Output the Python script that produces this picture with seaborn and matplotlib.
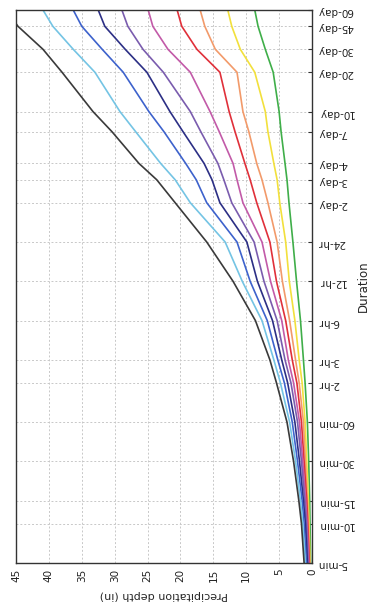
import numpy as np
import pandas as pd
import seaborn as sns
import matplotlib as mpl
import matplotlib.pyplot as plt

sns.set_style("white")
plt.rcParams["font.family"] = ["DejaVu Sans"]

# durations (minutes) and their tick labels
durations = [5, 10, 15, 30, 60, 120, 180, 360, 720, 1440, 2880, 4320, 5760,
             10080, 14400, 28800, 43200, 64800, 86400]
duration_labels = ["5-min", "10-min", "15-min", "30-min", "60-min", "2-hr",
                   "3-hr", "6-hr", "12-hr", "24-hr", "2-day", "3-day", "4-day",
                   "7-day", "10-day", "20-day", "30-day", "45-day", "60-day"]

# precipitation depth (in) per curve
ari_1 = [0.20, 0.30, 0.35, 0.50, 0.70, 1.05, 1.30, 1.75, 2.35, 2.90, 3.50,
         3.80, 4.10, 4.70, 5.00, 5.90, 7.10, 8.20, 8.70]
ari_2 = [0.30, 0.45, 0.55, 0.80, 1.05, 1.50, 1.95, 2.60, 3.45, 4.00, 4.90,
         5.30, 5.80, 6.70, 7.10, 8.70, 10.9, 12.2, 12.8]
ari_5 = [0.35, 0.55, 0.70, 1.00, 1.30, 1.95, 2.50, 3.40, 4.50, 5.30, 6.70,
         7.60, 8.40, 9.60, 10.5, 11.4, 14.7, 16.3, 17.0]
ari_10 = [0.40, 0.65, 0.80, 1.20, 1.60, 2.30, 3.00, 4.00, 5.40, 6.40, 8.40,
          9.40, 10.2, 11.7, 12.6, 14.0, 17.5, 19.8, 20.5]
ari_25 = [0.50, 0.75, 0.95, 1.40, 1.90, 2.80, 3.60, 4.60, 6.30, 7.60, 10.5,
          11.4, 12.0, 14.1, 15.5, 18.5, 21.9, 24.2, 24.9]
ari_50 = [0.60, 0.85, 1.10, 1.60, 2.20, 3.20, 4.10, 5.30, 7.30, 8.80, 12.2,
          13.4, 14.3, 16.9, 18.5, 22.6, 25.7, 28.0, 28.9]
ari_100 = [0.70, 1.00, 1.30, 1.90, 2.60, 3.70, 4.60, 6.00, 8.30, 9.90, 14.0,
           15.2, 16.4, 19.6, 21.6, 25.1, 28.4, 31.5, 32.5]
ari_200 = [0.85, 1.20, 1.50, 2.20, 3.00, 4.20, 5.20, 6.80, 9.40, 11.4, 16.0,
           17.6, 19.2, 22.5, 24.8, 28.7, 31.9, 35.0, 36.3]
ari_500 = [1.00, 1.40, 1.75, 2.50, 3.40, 4.80, 5.80, 7.60, 10.6, 13.2, 18.5,
           20.8, 23.0, 26.8, 29.2, 33.0, 36.3, 39.4, 40.9]
ari_1000 = [1.20, 1.60, 2.00, 2.80, 3.80, 5.40, 6.40, 8.60, 12.0, 16.0, 20.8,
            23.6, 26.3, 30.4, 33.3, 38.0, 40.9, 44.7, 46.5]

series = {"1": ari_1, "2": ari_2, "5": ari_5, "10": ari_10, "25": ari_25,
          "50": ari_50, "100": ari_100, "200": ari_200, "500": ari_500,
          "1000": ari_1000}
colors = ["#3fae49", "#f2e03c", "#f29a6a", "#e0303a", "#c25aa8", "#7a5cae",
          "#2c2f85", "#3d62cc", "#74c4e4", "#3a3a3a"]

rows = []
for ari, vals in series.items():
    for d, v in zip(durations, vals):
        rows.append({"ari": ari, "minutes": d, "depth": v})
df = pd.DataFrame(rows)

fig = plt.figure(figsize=(3.77, 6.14), dpi=100)
ax = fig.add_axes([16 / 377, 51 / 614, 296 / 377, 553 / 614])

sns.lineplot(data=df, x="depth", y="minutes", hue="ari", palette=colors,
             sort=False, orient="y", estimator=None, linewidth=1.2,
             legend=False, ax=ax)

ax.set_yscale("log")
ax.set_ylim(5, 86400)
ax.set_xlim(45, 0)

ax.set_xticks(np.arange(0, 50, 5))
ax.set_xticklabels([str(v) for v in range(0, 50, 5)], rotation=90, fontsize=7.5)
ax.set_yticks(durations)
ax.set_yticklabels(duration_labels, rotation=180, fontsize=7.5)
ax.yaxis.set_minor_locator(mpl.ticker.NullLocator())
ax.yaxis.tick_right()
ax.yaxis.set_label_position("right")

ax.set_xlabel("Precipitation depth (in)", rotation=180, fontsize=8, labelpad=6)
ax.set_ylabel("Duration", rotation=90, fontsize=8.5, labelpad=2)

ax.tick_params(direction="in", length=3, width=0.8, colors="#333333",
               labelcolor="#222222", pad=4)
ax.grid(True, which="major", linestyle=(0, (2, 2)), color="#c8c8c8",
        linewidth=0.7)
for s in ax.spines.values():
    s.set_visible(True)
    s.set_color("#333333")
    s.set_linewidth(1.0)

fig.savefig("out.png", dpi=100)
